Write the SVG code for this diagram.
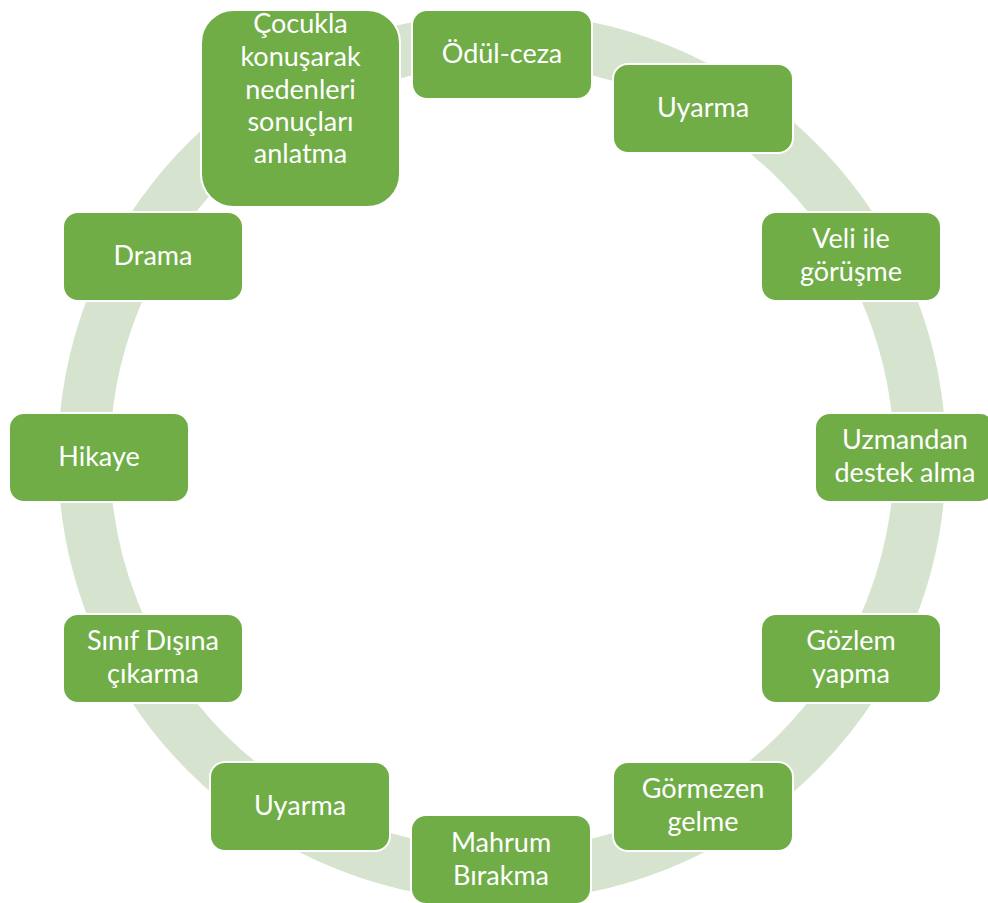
<svg xmlns="http://www.w3.org/2000/svg" width="988" height="903" viewBox="0 0 988 903">
<style>
.ring{fill:none;stroke:#D6E3CF;stroke-width:52}
.box{fill:#70AD47;stroke:#FFFFFF;stroke-width:2}
.t{font-family:Lato,"Open Sans",sans-serif;font-size:27px;fill:#FFFFFF;text-anchor:middle}
</style>
<rect width="988" height="903" fill="#FFFFFF"/>
<g id="connectors">
<circle class="ring" cx="502" cy="457" r="418"/>
</g>
<g id="n1"><rect class="box" x="201" y="10" width="199" height="197" rx="33"/>
<text class="t" x="300.5" y="33">Çocukla</text><text class="t" x="300.5" y="66">konuşarak</text><text class="t" x="300.5" y="99">nedenleri</text><text class="t" x="300.5" y="131">sonuçları</text><text class="t" x="300.5" y="163">anlatma</text></g>
<g id="n2"><rect class="box" x="412" y="10" width="180" height="89" rx="15"/><text class="t" x="502" y="63">Ödül-ceza</text></g>
<g id="n3"><rect class="box" x="613" y="64" width="180" height="89" rx="15"/><text class="t" x="703" y="117">Uyarma</text></g>
<g id="n4"><rect class="box" x="761" y="212" width="180" height="89" rx="15"/><text class="t" x="851" y="248">Veli ile</text><text class="t" x="851" y="281">görüşme</text></g>
<g id="n5"><rect class="box" x="815" y="413" width="180" height="89" rx="15"/><text class="t" x="905" y="449">Uzmandan</text><text class="t" x="905" y="482">destek alma</text></g>
<g id="n6"><rect class="box" x="761" y="614" width="180" height="89" rx="15"/><text class="t" x="851" y="650">Gözlem</text><text class="t" x="851" y="683">yapma</text></g>
<g id="n7"><rect class="box" x="613" y="762" width="180" height="89" rx="15"/><text class="t" x="703" y="798">Görmezen</text><text class="t" x="703" y="831">gelme</text></g>
<g id="n8"><rect class="box" x="411" y="815" width="180" height="89" rx="15"/><text class="t" x="501" y="852">Mahrum</text><text class="t" x="501" y="885">Bırakma</text></g>
<g id="n9"><rect class="box" x="210" y="762" width="180" height="89" rx="15"/><text class="t" x="300" y="815">Uyarma</text></g>
<g id="n10"><rect class="box" x="63" y="614" width="180" height="89" rx="15"/><text class="t" x="153" y="650">Sınıf Dışına</text><text class="t" x="153" y="683">çıkarma</text></g>
<g id="n11"><rect class="box" x="9" y="413" width="180" height="89" rx="15"/><text class="t" x="99" y="466">Hikaye</text></g>
<g id="n12"><rect class="box" x="63" y="212" width="180" height="89" rx="15"/><text class="t" x="153" y="265">Drama</text></g>
</svg>
